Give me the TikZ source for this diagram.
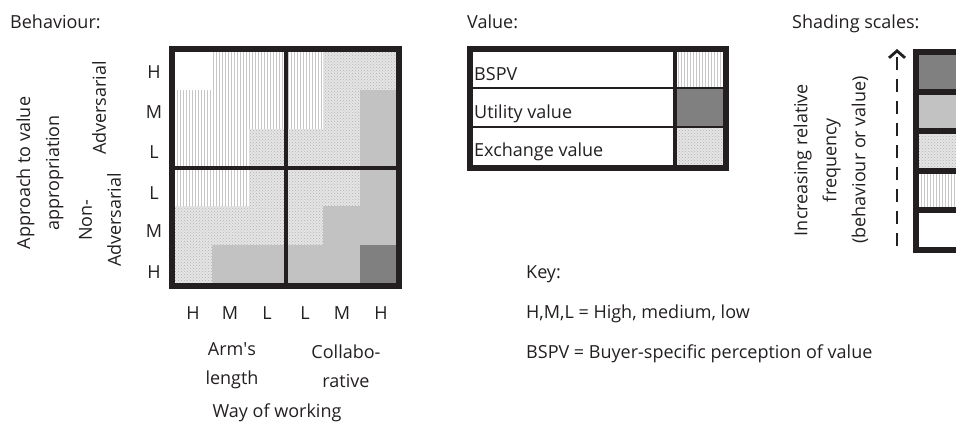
\documentclass[tikz,border=0pt]{standalone}
\usepackage{fontspec}
\setmainfont{Open Sans}
\usetikzlibrary{arrows.meta,patterns}
\definecolor{ink}{RGB}{35,31,32}
\tikzset{vlines/.style={preaction={fill=white},pattern=vertical lines,pattern color=black!22},dotty/.style={preaction={fill=black!10},pattern=crosshatch dots,pattern color=black!30},midgrey/.style={fill=black!24},darkgrey/.style={fill=black!50},frame/.style={draw=ink,line width=6pt},divider/.style={draw=ink,line width=4pt},txt/.style={text=ink,inner sep=0pt},side/.style={txt,rotate=90,align=center}}

\begin{document}
\begin{tikzpicture}[x=1pt,y=-1pt,font=\fontsize{18}{29}\selectfont]
\useasboundingbox (0,0) rectangle (956,423);
\clip (0,0) rectangle (956,423);

%behaviour
\node[txt,anchor=base west] (behav) at (10,28) {Behaviour:};
\fill[dotty] (171,49) rectangle (399,286);
\fill[vlines] (212,49) -- (323,49) -- (323,129) -- (249,129) -- (249,206) -- (171,206) -- (171,90) -- (212,90) -- cycle;
\fill[white] (171,49) rectangle (212,90);
\fill[midgrey] (360,90) -- (399,90) -- (399,286) -- (212,286) -- (212,245) -- (323,245) -- (323,206) -- (360,206) -- cycle;
\fill[darkgrey] (360,245) rectangle (399,286);
\draw[divider] (286,49) -- (286,286);
\draw[divider] (171,168) -- (399,168);
\draw[frame] (171.5,49) rectangle (399,286);

\node[side] (approach) at (40,173) {Approach to value\\appropriation};
\node[side] (adv) at (99,108) {Adversarial};
\node[side] (nonadv) at (100,220) {Non-\\Adversarial};
\node[txt] (row1) at (154,72) {H};
\node[txt] (row2) at (154,112) {M};
\node[txt] (row3) at (154,152) {L};
\node[txt] (row4) at (154,193) {L};
\node[txt] (row5) at (154,231) {M};
\node[txt] (row6) at (154,272) {H};

\node[txt] (col1) at (193,313) {H};
\node[txt] (col2) at (230,313) {M};
\node[txt] (col3) at (267,313) {L};
\node[txt] (col4) at (305,313) {L};
\node[txt] (col5) at (342,313) {M};
\node[txt] (col6) at (381,313) {H};
\node[txt,align=center] (arms) at (232,366) {Arm\textquotesingle s\\length};
\node[txt,align=center] (collab) at (346,366) {Collabo-\\rative};
\node[txt,anchor=base] (way) at (277,417) {Way of working};

%value
\node[txt,anchor=base west] (value) at (467,28) {Value:};
\fill[vlines] (675,49) rectangle (726,88);
\fill[darkgrey] (675,88) rectangle (726,127);
\fill[dotty] (675,127) rectangle (726,168);
\draw[ink,line width=2pt] (470,88) -- (726,88);
\draw[ink,line width=2pt] (470,127) -- (726,127);
\draw[divider] (675,49) -- (675,168);
\draw[frame] (470,49) rectangle (726,168);
\node[txt,anchor=base west] (bspv) at (474,80) {BSPV};
\node[txt,anchor=base west] (utility) at (474,118) {Utility value};
\node[txt,anchor=base west] (exchange) at (474,156) {Exchange value};

%key
\node[txt,anchor=base west] (key) at (526,278) {Key:};
\node[txt,anchor=base west] (hml) at (526,318) {H,M,L = High, medium, low};
\node[txt,anchor=base west] (bspvkey) at (526,358) {BSPV = Buyer-specific perception of value};

%shading scales
\node[txt,anchor=base west] (scales) at (792,28) {Shading scales:};
\fill[darkgrey] (916,52) rectangle (990,92);
\fill[midgrey] (916,92) rectangle (990,131);
\fill[dotty] (916,131) rectangle (990,170.5);
\fill[vlines] (916,170.5) rectangle (990,210);
\fill[white] (916,210) rectangle (990,250);
\draw[frame] (916,92) -- (990,92) (916,131) -- (990,131) (916,170.5) -- (990,170.5) (916,210) -- (990,210);
\draw[frame] (916,52) rectangle (990,250);
\coordinate (lowend) at (897,246);
\coordinate (highend) at (897,49);
\draw[ink,line width=2.8pt,dash pattern=on 13pt off 9pt,-{Straight Barb[length=7pt,width=16pt]}] (lowend) -- (highend);
\node[side] (freq) at (831,160) {Increasing relative\\frequency\\(behaviour or value)};

\end{tikzpicture}
\end{document}
